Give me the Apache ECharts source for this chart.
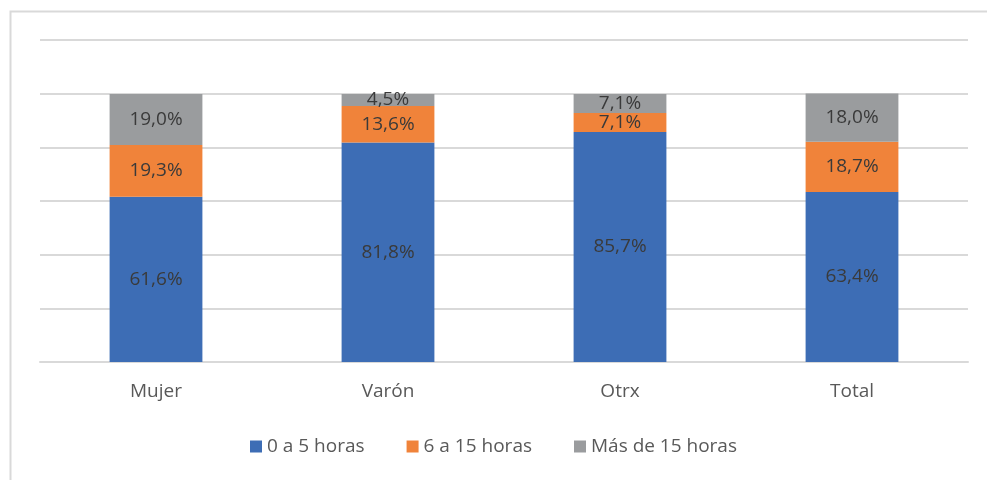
<!DOCTYPE html>
<html lang="es">
<head>
    <meta charset="UTF-8">
    <title>Horas</title>
    <style>
        html, body { margin: 0; padding: 0; background: #fff; }
        #chart { width: 987px; height: 480px; }
    </style>
    <script src="https://cdn.jsdelivr.net/npm/echarts@6/dist/echarts.min.js"></script>
</head>
<body>
<div id="chart"></div>
<script>
    var categories = ['Mujer', 'Varón', 'Otrx', 'Total'];
    var seriesNames = ['0 a 5 horas', '6 a 15 horas', 'Más de 15 horas'];
    var hasta5 = [61.6, 81.8, 85.7, 63.4];
    var de6a15 = [19.3, 13.6, 7.1, 18.7];
    var mas15 = [19.0, 4.5, 7.1, 18.0];
    var colors = ['#3d6db5', '#f0833a', '#9a9c9e'];

    var font = '"Open Sans", Lato, sans-serif';

    function pct(p) {
        return p.value.toFixed(1).replace('.', ',') + '%';
    }

    function makeSeries(name, data, color) {
        return {
            name: name,
            type: 'bar',
            stack: 'total',
            barWidth: '40%',
            data: data,
            itemStyle: { color: color },
            label: {
                show: true,
                position: 'inside',
                formatter: pct,
                color: '#3a3a3a',
                fontSize: 19,
                fontFamily: font
            }
        };
    }

    var chart = echarts.init(document.getElementById('chart'));
    var option = {
        animation: false,
        graphic: [{
            type: 'rect',
            shape: { x: 10.5, y: 11.5, width: 1000, height: 500 },
            style: { fill: 'none', stroke: '#d9d9d9', lineWidth: 2 },
            silent: true
        }],
        grid: { left: 40, right: 19, top: 40, bottom: 118 },
        legend: {
            bottom: 19,
            itemWidth: 12,
            itemHeight: 12,
            itemGap: 42,
            icon: 'rect',
            textStyle: { color: '#595959', fontSize: 19, fontFamily: font }
        },
        xAxis: {
            type: 'category',
            data: categories,
            axisLine: { lineStyle: { color: '#d9d9d9', width: 2 } },
            axisTick: { show: false },
            axisLabel: { color: '#595959', fontSize: 19, fontFamily: font, margin: 20 }
        },
        yAxis: {
            type: 'value',
            min: 0,
            max: 120,
            interval: 20,
            axisLabel: { show: false },
            axisLine: { show: false },
            axisTick: { show: false },
            splitLine: { lineStyle: { color: '#d9d9d9', width: 2 } }
        },
        series: [
            makeSeries(seriesNames[0], hasta5, colors[0]),
            makeSeries(seriesNames[1], de6a15, colors[1]),
            makeSeries(seriesNames[2], mas15, colors[2])
        ]
    };
    chart.setOption(option);
</script>
</body>
</html>
